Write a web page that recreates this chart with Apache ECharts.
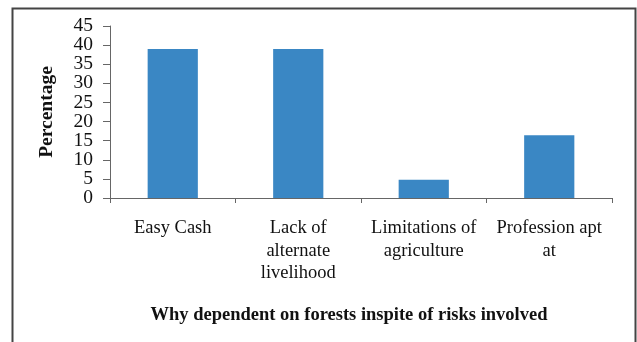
<!DOCTYPE html>
<html>
<head>
<meta charset="utf-8">
<script src="https://cdn.jsdelivr.net/npm/echarts@6/dist/echarts.min.js"></script>
<style>
html, body { margin: 0; padding: 0; background: #fff; }
#main { width: 637px; height: 342px; }
</style>
</head>
<body>
<div id="main"></div>
<script>
// 数据
var categories = ["Easy Cash", "Lack of\nalternate\nlivelihood", "Limitations of\nagriculture", "Profession apt\nat"];
var values = [39, 39, 4.8, 16.4];
var yTicks = [0, 5, 10, 15, 20, 25, 30, 35, 40, 45];

var serif = '"Liberation Serif", "Times New Roman", serif';
var yMin = yTicks[0], yMax = yTicks[yTicks.length - 1];

var labelStyle = {margin: 17, fontFamily: serif, fontSize: 19.5, color: '#111'};
var lineStyle = {color: '#666', width: 1};

var chart = echarts.init(document.getElementById('main'));
chart.setOption({
    backgroundColor: '#fff',
    animation: false,
    title: {
        text: 'Why dependent on forests inspite of risks involved',
        left: 344,
        textAlign: 'center',
        top: 301,
        textStyle: {fontFamily: serif, fontSize: 18.5, fontWeight: 'bold', color: '#111'}
    },
    graphic: [{
        // 外框，底边在画面外
        type: 'rect',
        left: 10, top: 6,
        shape: {width: 623, height: 400},
        style: {fill: 'none', stroke: '#444', lineWidth: 2}
    }],
    grid: {left: 110, right: 25, top: 26, bottom: 144},
    xAxis: {
        type: 'category',
        data: categories,
        axisLine: {lineStyle: lineStyle},
        axisTick: {show: true, length: 5, lineStyle: lineStyle},
        axisLabel: {
            interval: 0, margin: 19, lineHeight: 22.5,
            fontFamily: serif, fontSize: 18.5, color: '#111'
        }
    },
    yAxis: [{
        // 中间刻度 5..40（首尾标签由第二个轴画，避免被重叠检测隐藏）
        type: 'value',
        min: yMin, max: yMax, interval: yTicks[1] - yTicks[0],
        name: 'Percentage',
        nameLocation: 'middle',
        nameRotate: 90,
        nameGap: 53,
        nameTextStyle: {fontFamily: serif, fontSize: 19.5, fontWeight: 'bold', color: '#111'},
        axisLine: {show: true, lineStyle: lineStyle},
        axisTick: {show: true, length: 7, lineStyle: lineStyle},
        splitLine: {show: false},
        axisLabel: Object.assign({showMinLabel: false, showMaxLabel: false}, labelStyle)
    }, {
        // 只画 0 和 45
        type: 'value',
        position: 'left',
        offset: 0,
        min: yMin, max: yMax, interval: yMax - yMin,
        axisLine: {show: false},
        axisTick: {show: true, length: 7, lineStyle: lineStyle},
        splitLine: {show: false},
        axisLabel: Object.assign({showMinLabel: true, showMaxLabel: true}, labelStyle)
    }],
    series: [{
        type: 'bar',
        data: values,
        barWidth: '40%',
        yAxisIndex: 0,
        itemStyle: {color: '#3a87c4'}
    }]
});
</script>
</body>
</html>
